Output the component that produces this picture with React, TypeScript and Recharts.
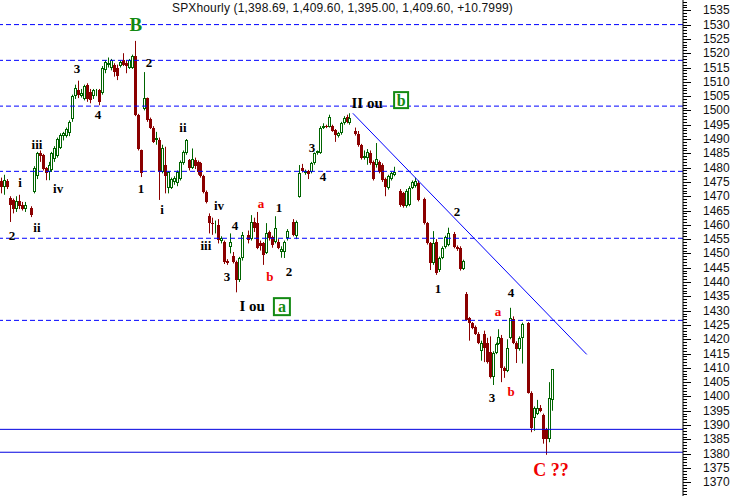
import { ComposedChart, Bar, XAxis, YAxis, ReferenceLine, ReferenceDot } from 'recharts';

// [slot, open, high, low, close] — one hourly bar per slot
type Bar5 = [number, number, number, number, number];

const openingChop: Bar5[] = [
  [0, 1475.3, 1476.5, 1471.0, 1473.2],
  [1, 1473.2, 1477.5, 1470.5, 1475.5],
  [2, 1475.3, 1476.0, 1472.5, 1473.3],
  [3, 1469.4, 1470.0, 1461.0, 1466.9],
  [4, 1468.7, 1469.2, 1464.0, 1465.5],
  [5, 1465.5, 1470.0, 1464.5, 1468.5],
  [6, 1468.5, 1470.5, 1465.5, 1466.5],
  [7, 1467.0, 1468.0, 1465.0, 1465.5],
  [8, 1465.5, 1468.0, 1464.5, 1466.8],
  [10, 1466.0, 1466.5, 1462.7, 1463.5],
];

const rallyToB: Bar5[] = [
  [11, 1471.4, 1480.5, 1471.0, 1480.0],
  [12, 1477.0, 1485.5, 1476.0, 1485.0],
  [13, 1485.0, 1486.0, 1482.0, 1484.0],
  [14, 1484.4, 1484.8, 1479.0, 1479.5],
  [15, 1479.8, 1480.2, 1475.6, 1478.0],
  [16, 1478.5, 1482.0, 1475.6, 1481.0],
  [17, 1479.0, 1485.5, 1478.5, 1485.0],
  [18, 1483.0, 1487.5, 1482.0, 1487.0],
  [19, 1484.0, 1490.5, 1483.5, 1490.0],
  [20, 1487.0, 1492.0, 1486.5, 1491.5],
  [21, 1491.0, 1492.5, 1489.5, 1492.0],
  [22, 1491.0, 1494.0, 1490.5, 1493.5],
  [23, 1492.0, 1496.5, 1491.0, 1496.0],
  [24, 1497.0, 1505.5, 1496.0, 1505.0],
  [25, 1505.0, 1509.0, 1504.0, 1508.0],
  [26, 1507.0, 1510.4, 1504.3, 1505.5],
  [27, 1505.0, 1507.5, 1504.5, 1506.0],
  [28, 1504.0, 1509.0, 1503.5, 1508.5],
  [29, 1509.0, 1509.5, 1503.0, 1504.0],
  [30, 1506.5, 1507.5, 1502.5, 1503.6],
  [31, 1505.0, 1507.5, 1504.0, 1507.0],
  [32, 1506.0, 1507.5, 1505.0, 1506.5],
  [33, 1507.0, 1507.5, 1501.8, 1503.0],
  [34, 1506.0, 1515.5, 1505.5, 1515.0],
  [35, 1514.0, 1517.5, 1513.0, 1517.0],
  [36, 1516.0, 1518.5, 1515.0, 1516.6],
  [37, 1515.0, 1518.0, 1514.0, 1517.5],
  [38, 1516.0, 1516.5, 1511.8, 1513.5],
  [39, 1515.0, 1516.0, 1510.6, 1512.0],
  [40, 1515.5, 1517.5, 1515.0, 1517.0],
  [41, 1517.5, 1520.0, 1515.5, 1516.0],
  [42, 1516.5, 1517.5, 1513.0, 1515.5],
  [43, 1515.0, 1518.0, 1514.5, 1517.5],
  [44, 1515.0, 1519.5, 1514.5, 1519.0],
  [45, 1519.0, 1524.3, 1498.0, 1498.5],
];

const firstDecline: Bar5[] = [
  [46, 1498.5, 1498.8, 1486.0, 1486.5],
  [47, 1486.0, 1486.3, 1476.7, 1478.2],
  [48, 1500.5, 1513.4, 1500.0, 1504.3],
  [49, 1504.3, 1504.5, 1496.0, 1496.5],
  [50, 1497.0, 1497.5, 1493.5, 1494.0],
  [51, 1494.0, 1494.5, 1488.6, 1489.0],
  [52, 1489.5, 1492.5, 1488.0, 1490.3],
  [53, 1489.6, 1490.5, 1468.7, 1478.4],
  [54, 1478.4, 1488.0, 1478.0, 1487.0],
  [55, 1481.0, 1487.3, 1471.0, 1477.0],
  [56, 1473.0, 1478.8, 1471.0, 1478.5],
  [57, 1473.0, 1476.5, 1472.5, 1476.0],
  [58, 1475.0, 1477.0, 1474.0, 1476.5],
  [59, 1474.5, 1479.0, 1473.5, 1478.5],
  [60, 1476.0, 1482.5, 1475.5, 1482.0],
  [61, 1481.7, 1486.0, 1481.0, 1485.6],
  [62, 1485.0, 1490.0, 1484.5, 1489.6],
  [63, 1482.6, 1483.0, 1479.0, 1479.8],
  [64, 1480.0, 1486.7, 1479.5, 1483.0],
  [65, 1482.6, 1483.5, 1479.5, 1480.5],
  [66, 1482.0, 1482.5, 1477.5, 1478.4],
  [67, 1481.6, 1482.0, 1476.5, 1477.0],
  [68, 1477.0, 1477.5, 1471.0, 1471.5],
  [69, 1471.5, 1472.0, 1467.5, 1468.0],
];

const waveABase: Bar5[] = [
  [70, 1463.0, 1464.0, 1457.0, 1460.5],
  [71, 1460.8, 1462.5, 1456.5, 1460.4],
  [72, 1460.3, 1461.5, 1457.0, 1460.8],
  [73, 1460.0, 1462.0, 1453.5, 1454.7],
  [74, 1454.5, 1456.0, 1453.5, 1455.3],
  [75, 1454.0, 1454.5, 1446.3, 1447.0],
  [76, 1447.5, 1448.0, 1446.0, 1446.8],
  [77, 1452.3, 1457.0, 1450.0, 1454.0],
  [78, 1449.0, 1450.5, 1446.5, 1447.0],
  [79, 1447.0, 1447.5, 1436.4, 1440.7],
  [80, 1440.7, 1448.8, 1440.0, 1448.3],
  [81, 1448.3, 1457.5, 1447.5, 1456.4],
  [83, 1456.4, 1458.0, 1453.5, 1454.7],
  [84, 1455.0, 1463.4, 1454.5, 1461.0],
  [85, 1461.0, 1462.5, 1457.5, 1459.0],
  [86, 1460.6, 1464.5, 1451.5, 1452.0],
  [87, 1453.7, 1454.5, 1451.0, 1452.5],
  [88, 1453.7, 1454.0, 1446.0, 1449.5],
  [89, 1450.0, 1460.6, 1449.8, 1457.0],
  [90, 1457.5, 1458.0, 1454.5, 1455.3],
  [91, 1455.7, 1456.2, 1452.0, 1453.0],
  [92, 1454.0, 1463.0, 1453.5, 1459.0],
  [93, 1454.0, 1455.0, 1451.5, 1452.0],
  [94, 1450.5, 1452.5, 1448.5, 1451.5],
  [95, 1450.5, 1454.5, 1448.4, 1454.0],
  [96, 1455.3, 1458.5, 1454.5, 1458.0],
  [98, 1461.0, 1462.0, 1456.0, 1456.5],
  [99, 1456.0, 1461.5, 1455.0, 1461.0],
];

const waveBRally: Bar5[] = [
  [100, 1469.7, 1480.9, 1469.5, 1478.0],
  [101, 1479.8, 1481.3, 1478.3, 1478.7],
  [102, 1478.0, 1479.3, 1477.5, 1478.8],
  [103, 1478.7, 1479.2, 1476.0, 1477.8],
  [104, 1478.4, 1482.0, 1478.0, 1481.6],
  [105, 1481.6, 1485.3, 1481.0, 1485.0],
  [106, 1485.0, 1486.0, 1484.5, 1485.7],
  [107, 1485.0, 1494.5, 1484.8, 1494.0],
  [108, 1494.0, 1495.5, 1493.5, 1494.7],
  [109, 1494.5, 1495.0, 1493.8, 1494.2],
  [110, 1494.2, 1498.5, 1494.0, 1497.6],
  [111, 1494.5, 1495.0, 1492.5, 1492.7],
  [112, 1493.0, 1493.5, 1489.0, 1491.5],
  [113, 1491.0, 1492.5, 1490.5, 1492.0],
  [114, 1492.0, 1496.0, 1491.5, 1495.5],
  [115, 1495.5, 1498.0, 1495.0, 1497.3],
  [116, 1497.6, 1498.5, 1495.5, 1496.0],
  [117, 1495.5, 1499.0, 1495.0, 1497.3],
];

const slideFromII: Bar5[] = [
  [119, 1492.8, 1494.0, 1491.2, 1491.7],
  [120, 1491.7, 1492.8, 1487.3, 1487.8],
  [121, 1487.8, 1488.3, 1482.8, 1483.3],
  [122, 1483.3, 1486.0, 1482.8, 1484.0],
  [123, 1483.3, 1486.5, 1481.0, 1485.5],
  [124, 1485.0, 1486.0, 1481.0, 1481.6],
  [125, 1482.0, 1482.5, 1475.5, 1476.0],
  [126, 1481.0, 1488.6, 1480.0, 1483.0],
  [127, 1482.0, 1482.5, 1478.0, 1478.4],
  [128, 1481.0, 1481.5, 1475.0, 1475.6],
  [129, 1476.0, 1476.5, 1470.0, 1473.2],
  [130, 1472.8, 1477.5, 1472.3, 1477.0],
  [131, 1476.0, 1478.5, 1475.5, 1478.0],
  [132, 1477.5, 1480.3, 1477.0, 1478.6],
  [134, 1472.0, 1472.5, 1466.3, 1466.8],
  [135, 1471.0, 1471.5, 1466.0, 1466.5],
  [136, 1466.5, 1472.5, 1466.0, 1472.0],
  [137, 1467.0, 1473.5, 1466.5, 1473.0],
  [138, 1473.0, 1475.5, 1472.5, 1475.0],
  [139, 1473.5, 1476.5, 1473.0, 1475.3],
  [140, 1474.6, 1475.5, 1468.2, 1468.7],
  [142, 1469.0, 1469.5, 1460.1, 1460.6],
  [143, 1460.6, 1461.0, 1453.1, 1453.6],
  [144, 1453.6, 1454.0, 1444.2, 1446.6],
  [145, 1446.6, 1457.8, 1446.0, 1453.6],
  [146, 1454.0, 1455.0, 1442.5, 1443.2],
  [147, 1444.2, 1448.9, 1443.5, 1448.4],
  [148, 1448.4, 1452.5, 1448.0, 1452.0],
  [149, 1452.2, 1456.2, 1451.7, 1455.7],
  [150, 1453.0, 1459.0, 1452.5, 1457.0],
  [152, 1456.8, 1457.5, 1451.8, 1452.3],
  [153, 1452.3, 1452.8, 1450.9, 1451.4],
  [154, 1452.0, 1452.5, 1444.0, 1444.6],
  [155, 1444.6, 1447.8, 1444.2, 1447.3],
];

const waveCLeg: Bar5[] = [
  [156, 1435.8, 1436.5, 1426.5, 1426.8],
  [157, 1427.4, 1427.8, 1419.5, 1425.7],
  [158, 1425.6, 1426.0, 1423.5, 1424.0],
  [159, 1424.3, 1424.8, 1421.5, 1422.0],
  [160, 1422.0, 1422.5, 1418.3, 1418.8],
  [161, 1416.0, 1419.5, 1412.5, 1418.6],
  [162, 1422.0, 1423.0, 1412.0, 1417.0],
  [163, 1418.6, 1420.5, 1411.5, 1412.0],
  [164, 1415.6, 1421.0, 1406.3, 1406.8],
  [165, 1406.8, 1415.8, 1404.0, 1415.3],
  [166, 1415.3, 1418.8, 1414.8, 1418.4],
  [167, 1418.4, 1423.5, 1418.0, 1420.8],
  [168, 1420.5, 1421.5, 1405.0, 1410.0],
  [169, 1410.0, 1410.5, 1406.5, 1408.8],
  [170, 1409.0, 1420.0, 1408.5, 1417.0],
  [171, 1420.5, 1431.0, 1420.0, 1427.4],
  [172, 1427.0, 1428.0, 1418.3, 1418.8],
  [173, 1418.8, 1419.3, 1411.7, 1416.6],
  [174, 1416.6, 1421.0, 1416.0, 1420.5],
  [175, 1420.6, 1425.8, 1411.5, 1425.3],
  [177, 1425.6, 1426.0, 1401.0, 1401.3],
  [178, 1401.3, 1401.8, 1387.5, 1389.0],
  [179, 1392.6, 1396.5, 1388.0, 1396.0],
  [180, 1394.0, 1398.8, 1393.5, 1396.0],
  [181, 1396.0, 1397.0, 1394.5, 1395.0],
  [182, 1393.6, 1394.0, 1383.5, 1385.3],
  [183, 1388.6, 1389.0, 1379.6, 1385.0],
  [184, 1385.0, 1405.0, 1384.0, 1399.4],
  [185, 1398.69, 1409.6, 1395.0, 1409.6],
];

const candles = [openingChop, rallyToB, firstDecline, waveABase, waveBRally, slideFromII, waveCLeg]
  .flat()
  .map(([slot, open, high, low, close]) => ({ slot, open, high, low, close }));

const dashedLevels = [1530, 1517.5, 1501.5, 1478.7, 1455.3, 1426.6];
const solidLevels = [1388.5, 1380.5];
const trendLine = [
  { slot: 117.9, price: 1499.0 },
  { slot: 196.4, price: 1414.7 },
];

const PRICE_MIN = 1365.2;
const PRICE_MAX = 1538.6;
const priceTicks: number[] = [];
for (let v = 1366; v <= 1538; v++) priceTicks.push(v);

const TITLE = 'SPXhourly (1,398.69, 1,409.60, 1,395.00, 1,409.60, +10.7999)';

const GREEN = '#006400';
const RED = '#8b0000';
const LABEL_GREEN = '#138a13';
const LABEL_RED = '#f00000';

type WaveLabel = { slot: number; price: number; text: string; color?: string; size?: number };

const waveLabels: WaveLabel[] = [
  { slot: 45.1, price: 1530.2, text: 'B', color: LABEL_GREEN, size: 19 },
  { slot: 49.5, price: 1516.9, text: '2' },
  { slot: 25.3, price: 1514.8, text: '3' },
  { slot: 32.4, price: 1498.7, text: '4' },
  { slot: 11.9, price: 1488.2, text: 'iii' },
  { slot: 60.9, price: 1494.2, text: 'ii' },
  { slot: 6.2, price: 1474.9, text: 'i' },
  { slot: 19.0, price: 1472.8, text: 'iv' },
  { slot: 3.5, price: 1456.4, text: '2' },
  { slot: 11.9, price: 1459.2, text: 'ii' },
  { slot: 46.8, price: 1472.8, text: '1' },
  { slot: 53.9, price: 1465.5, text: 'i' },
  { slot: 73.0, price: 1466.6, text: 'iv' },
  { slot: 87.1, price: 1467.3, text: 'a', color: LABEL_RED },
  { slot: 93.1, price: 1465.9, text: '1' },
  { slot: 78.4, price: 1459.9, text: '4' },
  { slot: 68.6, price: 1452.6, text: 'iii' },
  { slot: 75.7, price: 1442.1, text: '3' },
  { slot: 90.1, price: 1442.1, text: 'b', color: LABEL_RED },
  { slot: 96.5, price: 1443.8, text: '2' },
  { slot: 84.1, price: 1431.6, text: 'I ou', size: 15 },
  { slot: 122.7, price: 1502.6, text: 'II ou', size: 15 },
  { slot: 104.2, price: 1487.2, text: '3' },
  { slot: 107.9, price: 1477.0, text: '4' },
  { slot: 152.9, price: 1464.5, text: '2' },
  { slot: 146.5, price: 1437.6, text: '1' },
  { slot: 171.0, price: 1436.5, text: '4' },
  { slot: 166.6, price: 1429.8, text: 'a', color: LABEL_RED },
  { slot: 164.6, price: 1399.8, text: '3' },
  { slot: 171.0, price: 1401.9, text: 'b', color: LABEL_RED },
  { slot: 184.4, price: 1374.3, text: 'C ??', color: LABEL_RED, size: 18 },
];

const boxedLabels = [
  { slot: 94.1, price: 1431.4, text: 'a', w: 16, h: 17 },
  { slot: 134.1, price: 1503.6, text: 'b', w: 14, h: 16 },
];

function CandleShape(props: any) {
  const { x, y, width, height, payload } = props;
  if (x == null || y == null || !payload) return null;
  const { open, high, low, close } = payload;
  const k = high > low ? height / (high - low) : 0;
  const toY = (v: number) => y + (high - v) * k;
  const cx = Math.round(x + width / 2 - 0.5) + 0.5;
  const up = close >= open;
  const color = up ? GREEN : RED;
  const top = Math.round(toY(Math.max(open, close)));
  const bottom = Math.max(Math.round(toY(Math.min(open, close))), top + 1);
  return (
    <g>
      <line x1={cx} x2={cx} y1={toY(high)} y2={toY(low)} stroke={color} strokeWidth={1} />
      {up ? (
        <rect x={cx - 1} y={top + 0.5} width={2} height={Math.max(bottom - top - 1, 0)} fill="#fff" stroke={color} strokeWidth={1} />
      ) : (
        <rect x={cx - 1.5} y={top} width={3} height={bottom - top} fill={color} />
      )}
    </g>
  );
}

function PriceTick({ x, y, payload }: any) {
  const v = payload.value as number;
  const major = v % 5 === 0;
  const yy = Math.round(y) + 0.5;
  return (
    <g>
      <line x1={x} x2={x + (major ? 8 : 4)} y1={yy} y2={yy} stroke="#000" strokeWidth={1} />
      {major && (
        <text x={x + 20} y={y} dominantBaseline="central" fontSize={12} fontFamily="'Liberation Sans', Arial, sans-serif" fill="#111">
          {v}
        </text>
      )}
    </g>
  );
}

export default function App() {
  return (
    <div style={{ position: 'fixed', left: 0, top: 0, width: 735, height: 496, background: '#fff' }}>
      <ComposedChart width={735} height={496} data={candles} margin={{ top: 0, right: 0, bottom: 0, left: 0 }}>
        <XAxis type="number" dataKey="slot" domain={[-0.5, 228.7]} hide allowDataOverflow />
        <YAxis
          orientation="right"
          width={52}
          domain={[PRICE_MIN, PRICE_MAX]}
          ticks={priceTicks}
          interval={0}
          tickSize={0}
          tickMargin={0}
          tickLine={false}
          axisLine={{ stroke: '#000' }}
          tick={<PriceTick />}
          allowDataOverflow
        />
        {dashedLevels.map((v) => (
          <ReferenceLine key={v} y={v} stroke="#0000ff" strokeDasharray="5 3" strokeWidth={1} />
        ))}
        {solidLevels.map((v) => (
          <ReferenceLine key={v} y={v} stroke="#0000e0" strokeWidth={1} />
        ))}
        <ReferenceLine
          segment={trendLine.map((p) => ({ x: p.slot, y: p.price }))}
          stroke="#0000ff"
          strokeWidth={1}
          ifOverflow="visible"
        />
        <Bar
          dataKey={(d: any) => [d.low, d.high]}
          shape={CandleShape}
          barSize={3}
          isAnimationActive={false}
        />
        {waveLabels.map((l, i) => (
          <ReferenceDot
            key={'w' + i}
            x={l.slot}
            y={l.price}
            r={0}
            ifOverflow="visible"
            shape={(p: any) => (
              <text
                x={p.cx}
                y={p.cy}
                textAnchor="middle"
                dominantBaseline="central"
                fontFamily="'Liberation Serif', 'Times New Roman', serif"
                fontWeight="bold"
                fontSize={l.size ?? 13}
                fill={l.color ?? '#000'}
              >
                {l.text}
              </text>
            )}
          />
        ))}
        {boxedLabels.map((l, i) => (
          <ReferenceDot
            key={'b' + i}
            x={l.slot}
            y={l.price}
            r={0}
            ifOverflow="visible"
            shape={(p: any) => (
              <g>
                <rect x={p.cx - l.w / 2} y={p.cy - l.h / 2} width={l.w} height={l.h} fill="#fff" stroke={LABEL_GREEN} strokeWidth={2} />
                <text
                  x={p.cx}
                  y={p.cy}
                  textAnchor="middle"
                  dominantBaseline="central"
                  fontFamily="'Liberation Serif', 'Times New Roman', serif"
                  fontWeight="bold"
                  fontSize={16}
                  fill={LABEL_GREEN}
                >
                  {l.text}
                </text>
              </g>
            )}
          />
        ))}
      </ComposedChart>
      <div
        style={{
          position: 'absolute',
          left: 172,
          top: 1,
          fontFamily: "'Liberation Sans', Arial, sans-serif",
          fontSize: 12,
          letterSpacing: 0.15,
          whiteSpace: 'nowrap',
          color: '#111',
          lineHeight: '14px',
        }}
      >
        {TITLE}
      </div>
    </div>
  );
}
